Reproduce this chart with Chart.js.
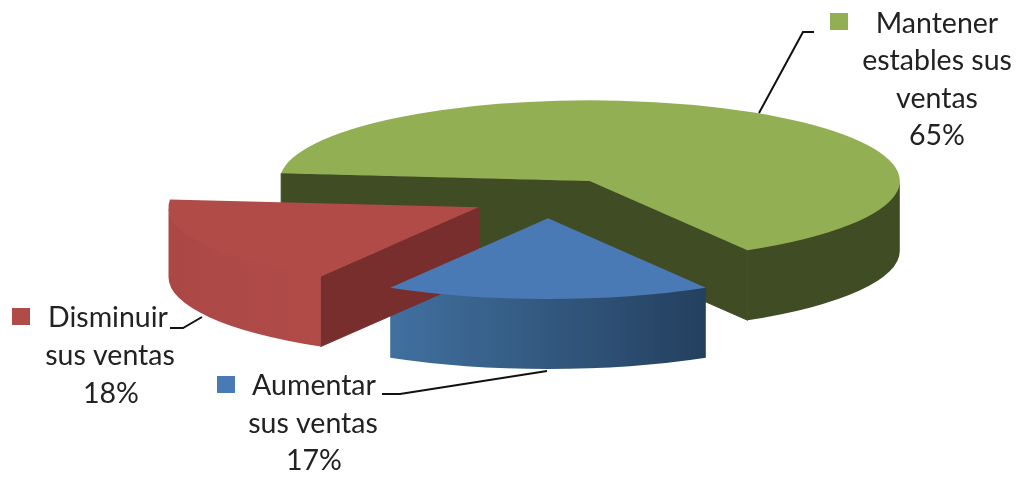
<!DOCTYPE html>
<html lang="es">
<head>
<meta charset="utf-8">
<title>Ventas</title>
<script src="https://cdn.jsdelivr.net/npm/chart.js@4"></script>
<style>
    html, body { margin: 0; padding: 0; background: #fff; }
    canvas { display: block; }
</style>
</head>
<body>
<canvas id="chart" width="1016" height="477"></canvas>
<script>
const categories = ['Mantener estables sus ventas', 'Aumentar sus ventas', 'Disminuir sus ventas'];
const salesShare = [65, 17, 18];
const labelLines = [
    ['Mantener', 'estables sus', 'ventas'],
    ['Aumentar', 'sus ventas'],
    ['Disminuir', 'sus ventas']
];

const topColors = ['#93af54', '#4a7ab5', '#b04b48'];
const innerWallColors = ['#404d24', '#2f5580', '#772e2c'];
const outerWallStops = [
    ['#404d24', '#404d24'],
    ['#41709f', '#24405f'],
    ['#ab4845', '#b04b48']
];

// where the pie sits on the page and how it is tilted
const pieCentre = { x: 548, y: 198 };
const tilt = 0.26;
const pieRadius = 310;
const explode = 78;
const wallDepth = 70;

// label layout, same order as categories
const labelBoxes = [
    { swatch: [830, 13], lines: [[937, 33], [937, 70], [937, 108], [937, 145]] },
    { swatch: [217, 376], lines: [[314, 395], [313, 433], [314, 470]] },
    { swatch: [12, 308], lines: [[108, 327], [110, 365], [111, 403]] }
];
const leaders = [
    [[814, 32], [803, 32], [759, 113]],
    [[382, 394], [400, 394], [547, 371]],
    [[170, 328], [183, 328], [202, 317]]
];

function sliceGeometry(chart, arc) {
    const mid = (arc.startAngle + arc.endAngle) / 2;
    return {
        x: pieCentre.x + Math.cos(mid) * explode,
        y: pieCentre.y + Math.sin(mid) * explode * tilt
    };
}

function radialWall(ctx, g, r, ry, angle) {
    const ex = g.x + Math.cos(angle) * r;
    const ey = g.y + Math.sin(angle) * ry;
    ctx.beginPath();
    ctx.moveTo(g.x, g.y);
    ctx.lineTo(ex, ey);
    ctx.lineTo(ex, ey + wallDepth);
    ctx.lineTo(g.x, g.y + wallDepth);
    ctx.closePath();
    ctx.fill();
    ctx.stroke();
}

const pie3d = {
    id: 'pie3d',
    beforeDatasetsDraw(chart) {
        const ctx = chart.ctx;
        const arcs = chart.getDatasetMeta(0).data;
        arcs.forEach((arc, i) => {
            const g = sliceGeometry(chart, arc);
            const r = arc.outerRadius;
            const ry = r * tilt;

            // the two cut faces, only the ones turned to the viewer
            ctx.fillStyle = innerWallColors[i];
            ctx.strokeStyle = innerWallColors[i];
            ctx.lineWidth = 1;
            if (Math.cos(arc.startAngle) < 0) radialWall(ctx, g, r, ry, arc.startAngle);
            if (Math.cos(arc.endAngle) > 0) radialWall(ctx, g, r, ry, arc.endAngle);

            // rim, its top edge tucked 1px under the slice so no white seam shows
            const from = Math.max(arc.startAngle, 0);
            const to = Math.min(arc.endAngle, Math.PI);
            if (to > from) {
                const grad = ctx.createLinearGradient(g.x + r * Math.cos(to), 0, g.x + r * Math.cos(from), 0);
                grad.addColorStop(0, outerWallStops[i][0]);
                grad.addColorStop(1, outerWallStops[i][1]);
                ctx.fillStyle = grad;
                ctx.beginPath();
                ctx.ellipse(g.x, g.y - 1, r, ry, 0, from, to);
                ctx.ellipse(g.x, g.y + wallDepth, r, ry, 0, to, from, true);
                ctx.closePath();
                ctx.fill();
            }
        });
    },
    beforeDatasetDraw(chart) {
        // tops of the slices: library arcs, squashed and pulled apart
        const ctx = chart.ctx;
        chart.getDatasetMeta(0).data.forEach(arc => {
            const g = sliceGeometry(chart, arc);
            ctx.save();
            ctx.translate(g.x, g.y);
            ctx.scale(1, tilt);
            ctx.translate(-arc.x, -arc.y);
            arc.draw(ctx);
            ctx.restore();
        });
        return false;
    },
    afterDraw(chart) {
        const ctx = chart.ctx;
        ctx.save();
        ctx.strokeStyle = '#111';
        ctx.lineWidth = 2;
        leaders.forEach(pts => {
            ctx.beginPath();
            pts.forEach((p, j) => j ? ctx.lineTo(p[0], p[1]) : ctx.moveTo(p[0], p[1]));
            ctx.stroke();
        });

        ctx.font = '28.5px Lato';
        ctx.textAlign = 'center';
        ctx.textBaseline = 'alphabetic';
        labelBoxes.forEach((box, i) => {
            ctx.fillStyle = topColors[i];
            ctx.fillRect(box.swatch[0], box.swatch[1], 18, 17);
            ctx.fillStyle = '#222';
            labelLines[i].concat(salesShare[i] + '%').forEach((text, j) => {
                ctx.fillText(text, box.lines[j][0], box.lines[j][1]);
            });
        });
        ctx.restore();
    }
};

new Chart(document.getElementById('chart'), {
    type: 'pie',
    data: {
        labels: categories,
        datasets: [{
            data: salesShare,
            backgroundColor: topColors,
            borderWidth: 0
        }]
    },
    options: {
        responsive: false,
        animation: false,
        events: [],
        radius: pieRadius,
        rotation: -84.6,
        plugins: {
            legend: { display: false },
            tooltip: { enabled: false }
        }
    },
    plugins: [pie3d]
});
</script>
</body>
</html>
